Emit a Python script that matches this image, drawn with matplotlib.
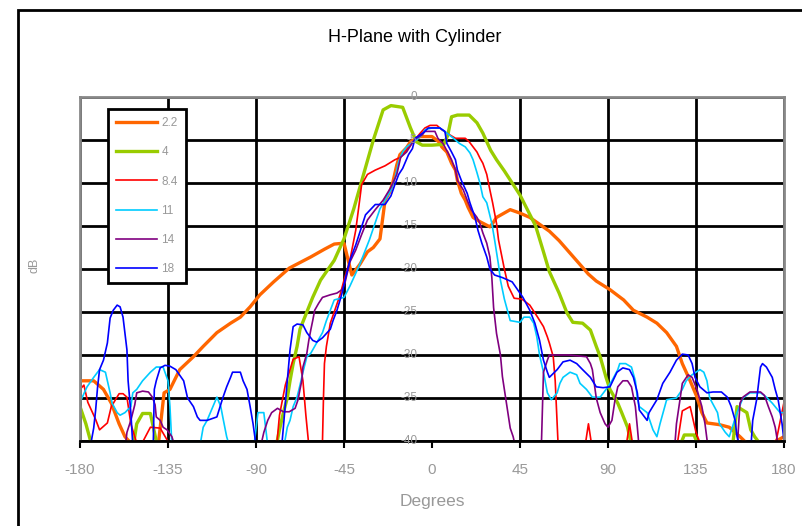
import numpy as np
import matplotlib.pyplot as plt
from matplotlib.patches import Rectangle

plt.rcParams['font.family'] = ['Liberation Sans', 'DejaVu Sans']

# 2.2
ang_22 = [-180, -176, -173, -168, -164, -160, -157, -153, -148, -143, -140, -137, -134, -129, -122, -117, -110,
          -103, -98, -93, -88, -81, -73, -62, -55, -50, -45, -41, -37, -33, -30, -26.6, -24, -21.5, -20, -18, -16.4,
          -13, -11, -8, -6, 0, 4, 5, 7.6, 10, 12, 13, 15, 17, 18.4, 21, 24.5, 29.6, 31, 33, 40, 45, 50, 55, 60, 65, 70,
          75, 80, 84, 91, 98, 103, 110, 115, 120, 125, 128, 132, 135.5, 138, 140.6, 147, 152, 157.5, 162, 170, 176, 180]
db_22 = [-33, -33, -33, -34, -35.6, -38, -39.5, -40.5, -41, -41, -40.5, -34.4, -34, -31.7, -30.2, -29, -27.4,
         -26.3, -25.6, -24.4, -23, -21.5, -19.9, -18.6, -17.7, -17.1, -17, -20.7, -19.5, -18, -17.5, -16.5, -12, -11,
         -9.9, -7.9, -6.7, -5.9, -5.2, -4.8, -4.6, -4.6, -5.3, -5.8, -6.4, -7.7, -8.5, -9.7, -11.2, -12, -12.8, -14,
         -14.5, -15.1, -14.7, -14, -13.1, -13.5, -14, -14.8, -15.6, -16.7, -18, -19.3, -20.6, -21.4, -22.4, -23.6,
         -24.8, -25.6, -26.3, -27.4, -29, -31, -33, -34.9, -36.7, -37.9, -38.1, -38.4, -39.5, -40.5, -41, -40, -39.5]

# 4
ang_4 = [-180, -177, -174, -165, -153, -151, -148, -144, -141, -138, -90, -80, -78, -76, -74, -72.6, -71, -69, -67.5,
         -64, -61, -57, -50, -45, -40, -35, -30, -25, -21, -15, -13, -11, -8, -5, 0, 6, 8, 10, 13, 19, 23, 26, 30, 33,
         37, 45, 53, 57, 60, 62, 65, 69, 72, 77, 81, 84, 86, 89, 91, 95, 97, 100, 102, 110, 126, 129, 134, 137, 150,
         154, 156, 161, 163, 165, 170, 180]
db_4 = [-36, -38, -40.5, -42, -41, -38, -36.8, -36.8, -40, -42, -42, -41, -38.7, -36.7, -35, -33, -31, -29, -27,
        -25, -23.3, -21.3, -19, -16.5, -13, -9, -5, -1.5, -1, -1.2, -2.4, -3.6, -5.2, -5.6, -5.6, -5.5, -4.5, -2.3,
        -2.1, -2.1, -3, -4.2, -6.2, -7.3, -8.6, -11.4, -15, -18, -20.3, -21.3, -22.8, -25.1, -26.2, -26.3, -27.1,
        -29, -30.2, -32.6, -34, -35.6, -36.7, -38.4, -40.5, -42, -41, -39.3, -39.3, -41, -42, -40, -36, -36.7, -38.7,
        -39.5, -41, -42]

# 8.4
ang_84 = [-180, -178, -176, -172, -170, -166, -164, -160, -158, -156, -154, -150, -144, -139, -130, -110, -80, -78,
          -75, -71, -68, -66, -64.5, -63, -58, -56, -55.5, -55, -54, -52, -50, -47, -45, -42, -39, -37, -36, -33,
          -29, -24, -19, -16, -11, -6, -3.6, -1, 2.5, 5, 7.6, 12, 17, 19, 21, 23, 24.5, 26, 28, 29.6, 31, 33, 34,
          37, 39, 42, 46, 50, 54, 57, 59, 60, 62, 63, 64.5, 70, 78, 80, 82, 90, 99, 101, 103, 110, 125, 128, 132,
          135, 140, 170, 176, 180]
db_84 = [-34, -33.5, -35.5, -37.5, -38.7, -37.9, -36, -34.5, -34.5, -34.9, -38, -41, -38.4, -38.5, -42, -42, -42,
         -37, -33.5, -30.5, -30.2, -33, -37, -40.5, -42, -40, -35, -31, -29, -26.3, -25, -23, -21.3, -19, -15.5, -12,
         -10.2, -9, -8.5, -8, -7.3, -7, -5.6, -4.2, -3.6, -3.3, -3.3, -3.8, -4.2, -4.8, -4.8, -5.2, -5.8, -6.4, -7.1,
         -7.7, -9, -10.8, -12.3, -14.7, -16.6, -20, -22, -23.4, -23.5, -24.2, -25.6, -26.7, -27.9, -28.6, -30.2, -33,
         -40.5, -42, -41, -38, -41, -42, -41, -38, -41, -42, -41, -36.5, -36, -39, -42, -42, -40, -35.5]

# 11
ang_11 = [-180, -176.4, -173, -170, -167, -166, -164.6, -163.6, -161, -159.5, -157, -154, -153, -151, -148, -144,
          -141, -137.5, -135, -134, -133, -125, -119, -117, -115, -110, -108, -107, -105, -103, -95, -91, -89, -86,
          -84, -80, -76, -74, -72.6, -71, -69, -67.5, -66, -64, -62, -59, -56, -54, -50, -45, -42, -37, -32, -26.6,
          -21, -19, -17, -15, -13, -10, -8, -5, -3.6, 0, 4, 7.6, 11, 14, 17, 19.4, 21, 23, 24.5, 26, 28, 30.6, 32,
          34, 35, 37, 40, 45, 47, 50, 52, 53.6, 55, 57, 59, 61, 64, 65.4, 67, 70.6, 74, 75.7, 79, 82, 86, 89, 92,
          95, 96, 99, 102, 104, 105, 106, 110, 113, 115, 116.6, 119, 120, 125, 128, 130, 133, 137, 139, 140.6, 142,
          146, 147, 150, 152, 156, 159, 162.6, 168, 171, 174, 178, 180]
db_11 = [-35.5, -33.7, -32.6, -31.7, -32, -33, -34.4, -35.6, -36.7, -37, -36.7, -36, -34.4, -34, -33, -32, -31.4,
         -31.4, -33, -36, -40.5, -42, -41, -38.4, -37.6, -34.9, -36, -37.2, -39.5, -41, -42, -40.5, -36.7, -36.7,
         -40.5, -42, -41, -38.4, -37.6, -36, -34.9, -33.5, -32, -30.2, -29.8, -28.6, -27.4, -26, -23.6, -23.3, -22,
         -19.5, -16.6, -13, -10.8, -9.5, -7.5, -6.4, -5.8, -5.3, -5, -4.4, -3.8, -3.6, -3.6, -4.2, -4.8, -5.4, -5.8,
         -6.5, -7.3, -8.8, -10, -11.6, -12.3, -14.7, -16.6, -19.5, -21.3, -23.5, -26, -26.2, -25.6, -25.6, -26.3,
         -27.9, -30, -32, -34.4, -35.2, -34.4, -33.3, -32.6, -32, -32.3, -33.3, -34, -34.9, -34.9, -34, -33, -31.7,
         -31, -31, -31.4, -33, -35, -36, -36.7, -38.7, -39.5, -38, -36, -35.2, -35, -34, -33, -32.3, -31.7, -32, -33,
         -35, -36.7, -38, -39, -39.5, -36.7, -35, -34.4, -34.4, -34.9, -35.6, -36.7, -36.7]

# 14
ang_14 = [-180, -160, -157, -156, -154, -152, -151, -148, -145, -143, -141.6, -141, -139, -137.5, -135.5, -133, -131,
          -100, -88, -86, -84, -82, -79, -76, -73, -70, -68.5, -67.5, -66.6, -66, -64, -63, -62, -61, -60, -58, -56,
          -52, -48.6, -46, -44.5, -42, -39, -36, -33, -29, -25, -21, -18, -16, -13, -10, -8, -5, -3.6, 1.5, 3, 5.6,
          8, 10, 12, 13, 16, 18, 20, 23, 24.5, 26, 28, 29.6, 30.6, 31.5, 33, 35, 36, 38, 40, 41.5, 43, 54, 56, 57,
          59, 60, 70, 79, 81, 82, 84, 86, 88.5, 90, 92, 93.6, 95, 97.6, 100, 102, 104, 105, 106, 120, 124, 125, 127,
          128, 131, 133, 135.5, 138, 139.6, 141, 150, 156, 157.5, 159, 162.6, 168, 170, 172, 174, 175.5, 177, 180]
db_14 = [-42, -42, -41, -39, -37.6, -35.8, -34.4, -34.2, -34.3, -34.9, -35.8, -37.2, -37.6, -38.4, -38.7, -39.5, -41,
         -42, -41, -39, -37.6, -36.7, -36.2, -36.6, -36.6, -36.2, -35.2, -34, -33, -31.4, -29.8, -28.3, -27.1, -26,
         -24.8, -24, -23.3, -23, -22.8, -22.4, -21.6, -19.2, -17.8, -16, -14.3, -13.1, -12, -10.5, -9, -7, -6.4, -5.3,
         -4.8, -4.4, -4, -4, -4.8, -5.4, -6.4, -7.3, -8.5, -9.7, -10.8, -12, -13.1, -14, -14.7, -15.8, -17, -18.6, -21,
         -24.5, -27.5, -30, -32.5, -35.5, -38.5, -39.5, -41, -42, -40, -32, -30.6, -30, -30, -30.2, -31, -31.7, -35,
         -36.7, -38, -38.4, -37.6, -35.2, -33.7, -33, -33, -33.7, -36, -38.4, -41, -42, -41, -38, -34.9, -33.3, -32.3,
         -32.6, -34, -36, -38, -40.5, -42, -41, -35.6, -34.9, -34.3, -34.3, -34.7, -36, -37.2, -38.4, -40.5, -41]

# 18
ang_18 = [-180, -175, -173, -172, -171, -170, -168, -166, -164.6, -163, -161, -159.5, -158, -156, -155.4, -154, -153,
          -145, -142.5, -142, -141, -139, -136.5, -134, -131, -127, -125, -122, -120, -118.6, -115, -110, -107, -105,
          -103, -102, -98, -96.6, -94.6, -93, -91.5, -90, -80, -77, -76, -74, -72.6, -71, -69, -66, -64, -61, -59,
          -56, -52, -50.6, -48.6, -47, -45.5, -44.5, -42, -39, -34, -29, -24, -21, -19, -17, -15, -12, -10, -8.7, -6,
          -3.6, -2, 0, 4, 6.6, 7.6, 10, 12, 13, 15, 18, 19.4, 22, 23.5, 25.5, 28, 29.6, 32, 36, 41, 45, 46.5, 50, 52.6,
          55, 57, 59, 60, 64, 67, 70.6, 74, 77, 81, 84, 87.5, 91, 94.6, 97.6, 101, 103, 105, 106, 110, 111, 115, 118,
          121.7, 125, 128, 131, 133, 134.5, 137, 140.6, 143.7, 148, 151, 153, 155, 156, 158, 163, 164, 166, 168, 169,
          171, 174, 175.5, 177, 179, 180]
db_18 = [-41, -41, -38.5, -36.4, -33.7, -31.7, -30.6, -28.6, -25.7, -24.8, -24.2, -24.4, -25.6, -29.4, -33, -36.7,
         -40.5, -42, -40, -34, -33, -31.5, -31.2, -31.3, -31.7, -33, -35, -36, -37.2, -37.6, -37.6, -37.2, -35, -33.7,
         -32.6, -32, -32, -33, -34, -36, -38, -40.5, -42, -41, -38.4, -33, -29.4, -26.7, -26.4, -26.5, -27.4, -28.3,
         -28.5, -28, -27, -26, -24.8, -23.6, -22.4, -21.3, -19, -17.2, -13.7, -12.5, -12.5, -11.5, -10.2, -9, -8.3,
         -6.7, -6, -4.8, -4.4, -4, -3.6, -3.6, -3.6, -4, -5.4, -6.4, -7.3, -8.5, -9.7, -11.2, -12.3, -14, -15.5, -17,
         -18.6, -20, -20.7, -21, -21.5, -22.8, -23.3, -24.8, -26.3, -28.3, -30.6, -32, -32.6, -31.7, -30.8, -30.6,
         -31, -31.7, -32.6, -33.7, -33.8, -33.7, -32, -31.5, -31.7, -32.6, -34.4, -36.4, -37.6, -36.7, -35.2, -33.3,
         -32, -30.6, -29.9, -30, -31, -32.6, -33.7, -34.4, -34.3, -34.3, -34.9, -36, -37.6, -39.5, -41, -41, -37.6,
         -35.2, -31.4, -31, -31.4, -32.6, -34, -35.2, -38, -40]

series = [
    ('2.2', ang_22, db_22, '#FF6600', 2.4),
    ('4', ang_4, db_4, '#99CC00', 2.4),
    ('8.4', ang_84, db_84, '#FF0000', 1.2),
    ('11', ang_11, db_11, '#00CCFF', 1.2),
    ('14', ang_14, db_14, '#800080', 1.2),
    ('18', ang_18, db_18, '#0000FF', 1.2),
]

x_ticks = [-180, -135, -90, -45, 0, 45, 90, 135, 180]
y_ticks = [0, -5, -10, -15, -20, -25, -30, -35, -40]

fig = plt.figure(figsize=(8.03, 5.26), dpi=100)
ax = fig.add_axes([80 / 803, 1 - 441 / 526, 704 / 803, 344 / 526])

for name, a, d, c, lw in series:
    ax.plot(a, d, color=c, lw=lw, label=name)

ax.set_xlim(-180, 180)
ax.set_ylim(-40, 0)
ax.set_xticks(x_ticks)
ax.set_xticklabels([str(t) for t in x_ticks], color='#999999', fontsize=11)
ax.tick_params(axis='x', direction='out', length=5, width=1.5, color='black', pad=11)
ax.set_yticks(y_ticks)
ax.tick_params(axis='y', left=False, labelleft=False)

ax.grid(True, color='black', lw=2)
ax.get_xgridlines()[4].set_visible(False)
ax.set_axisbelow(True)

for t in y_ticks:
    ax.text(-7.5, t, str(t), ha='right', va='center', color='#999999', fontsize=8.5)

for s in ['top', 'left', 'right']:
    ax.spines[s].set_color('#888888')
    ax.spines[s].set_linewidth(2)
ax.spines['bottom'].set_color('black')
ax.spines['bottom'].set_linewidth(2)

ax.set_xlabel('Degrees', color='#999999', fontsize=12.5, labelpad=12)
fig.text(35 / 803, 1 - 265 / 526, 'dB', rotation=90, ha='center', va='center', color='#999999', fontsize=9)
fig.text(415 / 803, 1 - 38 / 526, 'H-Plane with Cylinder', ha='center', va='center', color='black', fontsize=13)

leg = ax.legend(loc='upper left', bbox_to_anchor=(0.04, 0.965), borderaxespad=0, fancybox=False,
                framealpha=1, edgecolor='black', labelcolor='#999999', fontsize=8.5,
                handlelength=3.4, handletextpad=0.4, labelspacing=1.45, borderpad=0.7)
leg.get_frame().set_linewidth(2)

fig.add_artist(Rectangle((18 / 803, -0.1), 1.2, 1 - 10 / 526 + 0.1, transform=fig.transFigure,
                         fill=False, edgecolor='black', lw=2))

plt.savefig('out.png', dpi=100)
